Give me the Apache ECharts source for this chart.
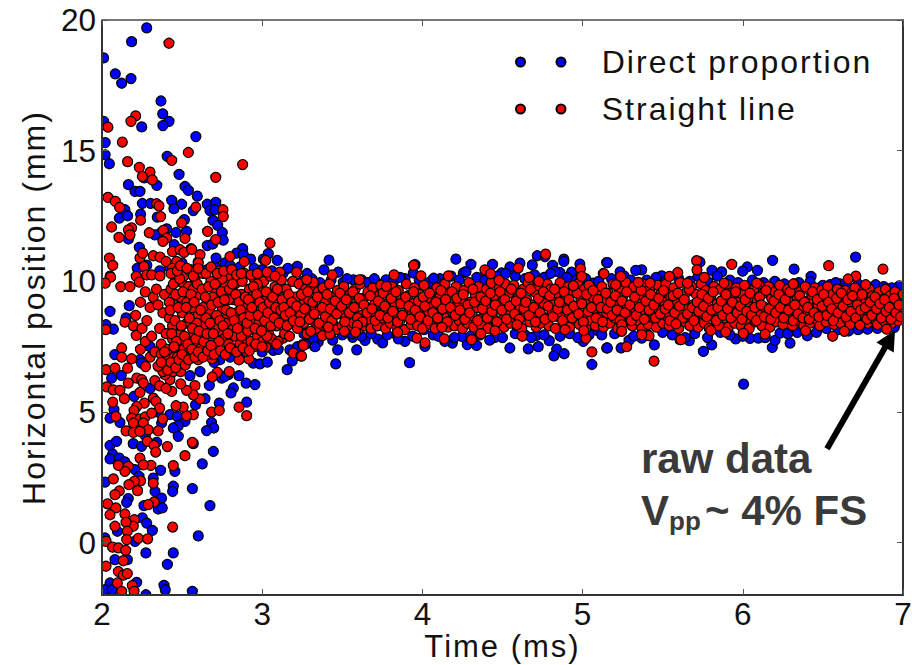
<!DOCTYPE html>
<html>
<head>
<meta charset="utf-8">
<script src="https://cdn.jsdelivr.net/npm/echarts@6/dist/echarts.min.js"></script>
<style>
html,body{margin:0;padding:0;background:#fff}
#chart{width:912px;height:665px}
#chart text{letter-spacing:2px}
#chart text[style*="bold"]{letter-spacing:0}
#chart text[style*="31.5px"]{letter-spacing:0}
</style>
</head>
<body>
<div id="chart"></div>
<script>
var xTicks = [2, 3, 4, 5, 6, 7];
var yTicks = [0, 5, 10, 15, 20];
var seriesNames = ['Direct proportion', 'Straight line'];

// 蓝点：左侧散布
var blueScatter = [[2.279,19.7],[2.185,19.17],[2.01,18.55],[2.083,17.94],[2.123,17.58],[2.181,17.76],[2.368,16.9],[2.379,16.41],[2.418,16.12],[2.38,15.96],[2.248,15.91],[2.01,16.12],[2.586,15.54],[2.02,15.31],[2.02,14.84],[2.046,14.5],[2.407,14.78],[2.481,14.09],[2.165,13.7],[2.206,13.44],[2.237,13.44],[2.264,13.96],[2.342,13.67],[2.518,13.63],[2.539,13.48],[2.595,13.26],[2.435,13.1],[2.497,12.95],[2.449,12.78],[2.252,12.98],[2.303,12.98],[2.657,12.95],[2.71,13.02],[2.674,12.71],[2.705,12.74],[2.57,12.71],[2.143,12.74],[2.108,12.42],[2.16,12.51],[2.241,12.57],[2.345,12.46],[2.514,12.36],[2.693,12.33],[2.722,12.14],[2.751,11.87],[2.757,11.58],[2.657,11.37],[2.691,11.43],[2.528,11.91],[2.462,11.87],[2.404,12.01],[2.366,11.85],[2.33,11.78],[2.165,11.62],[2.451,11.4],[2.233,11.3],[2.556,11.25],[2.878,11.25],[2.84,11.08],[2.882,11.02],[2.928,10.85],[3.038,11.06],[3.007,10.85],[3.094,10.8],[3.219,10.57],[2.712,10.89],[2.768,10.71],[2.716,10.51],[2.654,10.44],[2.22,10.5],[2.28,10.62],[2.36,10.4],[2.42,10.55],[2.5,10.7],[2.6,10.75],[2.05,10.2],[2.8,10.6],[2.86,10.55],[2.95,10.5],[3.0,10.45],[3.06,10.4],[3.13,10.3],[3.16,10.5],[3.28,10.3],
[2.05,8.85],[2.17,9.07],[2.025,8.34],[2.071,8.17],[2.06,6.3],[2.075,5.09],[2.112,4.6],[2.05,4.77],[2.195,3.79],[2.05,3.72],[2.091,3.88],[2.247,3.69],[2.341,3.84],[2.695,3.49],[2.626,3.02],[2.57,3.79],[2.066,3.39],[2.05,3.21],[2.108,3.24],[2.143,3.09],[2.455,2.73],[2.366,2.77],[2.206,2.8],[2.231,2.54],[2.019,2.32],[2.445,2.16],[2.441,1.96],[2.564,2.07],[2.32,2.47],[2.331,1.96],[2.372,1.71],[2.164,1.69],[2.154,1.54],[2.674,1.42],[2.262,1.42],[2.351,1.29],[2.376,1.33],[2.252,0.95],[2.279,0.75],[2.314,0.47],[2.096,0.44],[2.601,0.26],[2.019,0.18],[2.206,0.05],[2.274,-0.39],[2.445,-0.39],[2.408,-0.83],[2.081,-0.65],[2.158,-0.65],[2.216,-1.52],[2.05,-1.54],[2.019,-1.8],[2.064,-1.8],[2.387,-1.63],[2.395,-1.8],[2.564,-1.86],[2.274,-1.99],
[2.612,6.55],[2.67,6.02],[2.82,5.92],[2.805,5.73],[2.899,6.11],[2.955,6.05],[2.732,5.34],[2.903,5.38],[2.684,4.6],[2.698,4.39],[2.653,4.29],[2.643,5.51],[2.584,5.28],[2.944,6.87],[2.986,6.84],[3.032,6.91],[3.156,6.62],[3.188,6.96],[3.173,7.38],[3.069,7.36],[2.855,6.39],[2.788,6.43],[2.747,6.3],[2.767,6.36],[2.736,7.0],[2.549,6.39],[2.424,4.9],[2.47,4.83],[2.518,4.64],[2.476,4.48],[2.445,4.39],[2.372,4.58],[2.476,4.07],[2.237,7.0],[2.247,6.87],[2.3,5.9],[2.35,5.0],[2.27,4.1],[2.2,5.6],[2.12,6.4],[2.08,7.2],[2.15,8.6],[2.3,7.5],[2.4,7.0],[2.5,6.8],[2.6,7.1],[2.7,6.9],[2.8,7.1],[2.9,7.2],[3.0,7.3],[3.1,7.4],[3.22,7.5],[3.27,7.6],[3.33,7.5]];

// 蓝点：稳定段上下边缘
var blueBand = [[3.417,10.81],[4.209,10.85],[4.303,10.65],[4.255,10.32],[4.272,10.37],[4.438,10.65],[4.717,10.98],[4.686,10.63],[4.765,10.95],[4.609,10.7],[4.546,10.55],[4.813,10.61],[4.883,10.85],[4.883,10.76],[4.983,10.66],[5.15,10.72],[4.931,10.35],[4.858,10.34],[4.827,10.38],[3.386,10.44],[3.475,10.35],[3.954,10.64],[3.943,10.32],[4.494,10.32],[5.066,9.93],[3.891,10.1],[3.506,9.96],[3.569,10.06],[3.621,10.06],[3.725,9.9],[4.11,10.1],[4.141,9.97],[3.773,10.06],
[3.459,6.84],[3.92,6.89],[3.471,7.38],[3.59,7.38],[3.721,7.79],[3.752,7.65],[3.642,7.74],[3.565,7.86],[3.891,7.7],[4.016,7.51],[4.187,7.64],[4.28,7.58],[4.338,7.55],[4.546,7.45],[4.661,7.42],[4.723,7.5],[4.792,7.73],[4.838,7.41],[4.821,7.15],[4.885,7.23],[5.058,6.82],[5.15,7.45],[5.087,8.13],[3.298,7.64],[3.35,7.68],[4.453,7.86],[4.245,7.89],[4.068,7.95],[4.01,8.15],[4.713,7.93],[5.004,7.7],[3.839,7.96],
[5.155,10.72],[6.186,10.8],[6.704,10.93],[6.028,10.55],[5.999,10.39],[6.091,10.42],[6.32,10.47],[6.426,10.19],[5.369,10.44],[5.332,10.42],[5.234,10.36],[5.808,10.42],[5.868,10.36],[5.494,10.21],[5.733,10.74],[6.829,9.87],[6.544,9.87],[6.607,9.9],[6.977,9.83],
[5.155,7.45],[6.005,6.07],[5.754,7.32],[5.806,7.57],[5.24,7.45],[5.29,7.74],[5.448,7.57],[6.184,7.47],[6.295,7.64],[6.201,7.74],[5.956,7.8],[5.666,7.73],[5.608,7.77],[6.403,7.92],[6.232,8.02],[6.779,8.17],[6.946,8.24],[6.045,7.82],[6.097,7.83],[5.369,7.83],[6.596,8.15],[6.471,8.34],
[3.25,10.0],[3.31,10.1],[3.36,9.95],[3.43,10.05],[3.53,10.1],[3.66,9.95],[3.7,10.1],[3.82,10.0],[3.86,10.15],[3.98,10.05],[4.04,9.95],[4.07,10.12],[4.18,10.2],[4.23,10.05],[4.34,10.15],[4.39,10.05],[4.47,10.2],[4.52,10.3],[4.58,10.2],[4.64,10.1],[4.7,10.25],[4.76,10.15],[4.8,10.3],[4.9,10.15],[4.96,10.05],[5.02,10.1],[5.1,10.0],[5.18,10.1],[5.26,10.2],[5.3,10.05],[5.4,10.05],[5.46,10.15],[5.52,10.0],[5.6,10.1],[5.67,10.0],[5.72,10.2],[5.78,10.0],[5.84,10.2],[5.92,10.05],[5.97,9.95],[6.06,10.05],[6.13,9.95],[6.2,10.0],[6.26,9.9],[6.35,9.95],[6.42,9.98],[6.5,9.85],[6.58,9.95],[6.65,9.8],[6.72,9.9],[6.78,9.8],[6.88,9.8],[6.93,9.75],
[3.26,8.0],[3.32,7.8],[3.38,7.95],[3.44,7.75],[3.5,7.95],[3.56,8.0],[3.62,7.9],[3.68,8.0],[3.78,7.95],[3.85,7.8],[3.94,7.9],[4.1,7.9],[4.14,7.7],[4.2,7.85],[4.3,7.9],[4.36,7.95],[4.42,7.75],[4.5,7.85],[4.58,8.0],[4.64,7.95],[4.68,7.85],[4.76,7.95],[4.86,7.9],[4.92,8.0],[4.97,7.85],[5.04,7.95],[5.12,7.95],[5.2,8.0],[5.32,7.9],[5.4,8.0],[5.5,8.05],[5.56,7.95],[5.64,7.85],[5.7,8.0],[5.78,7.85],[5.86,8.05],[5.92,7.95],[6.0,7.9],[6.14,7.85],[6.28,8.0],[6.34,8.05],[6.46,8.05],[6.52,8.2],[6.66,8.1],[6.72,8.15],[6.84,8.2],[6.9,8.25]];

// 红点：左侧散布
var redScatter = [[2.418,19.11],[2.21,16.33],[2.181,16.12],[2.037,15.9],[2.127,15.33],[2.878,14.47],[2.539,14.93],[2.435,14.63],[2.16,14.58],[2.233,14.36],[2.3,14.18],[2.252,14.01],[2.314,13.88],[2.71,13.98],[2.037,13.21],[2.083,13.06],[2.11,12.83],[2.341,12.97],[2.356,12.89],[2.586,12.84],[2.755,12.74],[2.757,12.48],[2.366,12.48],[2.241,12.34],[2.497,12.24],[2.06,12.08],[2.185,12.05],[2.165,11.97],[2.175,11.78],[2.106,11.68],[2.295,11.86],[2.383,11.95],[2.404,11.66],[2.38,11.53],[2.518,11.64],[2.659,11.91],[2.71,11.6],[3.049,11.46],[2.44,11.14],[2.487,11.21],[2.512,11.11],[2.56,11.22],[2.612,11.02],[2.466,10.76],[2.237,10.89],[2.254,11.08],[2.32,10.98],[2.362,10.93],[2.4,10.76],[2.046,10.89],[2.067,10.61],[2.601,10.7],[2.56,10.44],[2.799,10.95],[2.888,10.76],[3.022,10.8],[3.111,10.35],[3.215,10.35],[2.262,10.57],[2.214,10.19],[2.279,10.25],[2.31,10.25],[2.362,10.21],[2.456,10.21],[2.233,9.97],[2.054,10.16],[2.02,9.93],[2.117,9.8],[2.175,9.8],[2.497,9.97],[2.52,10.3],[2.44,10.5],
[2.143,8.44],[2.196,8.3],[2.214,7.93],[2.023,8.15],[2.123,7.45],[2.123,7.1],[2.185,7.04],[2.025,6.62],[2.081,6.68],[2.16,6.68],[2.272,6.74],[2.164,6.11],[2.217,6.3],[2.248,6.24],[2.258,6.11],[2.03,5.96],[2.07,5.85],[2.112,5.83],[2.14,5.51],[2.067,5.38],[2.237,5.75],[2.32,5.53],[2.337,5.41],[2.264,5.34],[2.217,5.21],[2.36,5.15],[2.2,5.06],[2.087,4.83],[2.185,4.77],[2.237,4.73],[2.269,4.81],[2.31,4.96],[2.196,4.58],[2.258,4.58],[2.379,4.74],[2.289,4.32],[2.351,4.28],[2.15,4.28],[2.196,4.22],[2.237,4.26],[2.283,3.88],[2.325,3.72],[2.335,3.47],[2.408,3.68],[2.564,3.84],[2.518,3.33],[2.445,2.95],[2.305,2.96],[2.237,3.24],[2.258,2.98],[2.164,2.92],[2.143,2.73],[2.102,2.96],[2.071,2.44],[2.241,2.37],[2.202,2.35],[2.168,2.22],[2.32,2.28],[2.222,1.99],[2.108,1.98],[2.081,1.84],[2.035,1.49],[2.087,1.33],[2.05,1.07],[2.326,1.56],[2.289,1.46],[2.143,1.1],[2.202,0.88],[2.195,0.63],[2.15,0.78],[2.081,0.63],[2.158,0.44],[2.154,0.12],[2.227,0.17],[2.285,0.15],[2.441,0.6],[2.025,0.05],[2.066,-0.17],[2.102,-0.2],[2.148,-0.29],[2.133,-0.69],[2.025,-0.9],[2.102,-1.1],[2.133,-1.24],[2.158,-1.18],[2.096,-1.54],[2.123,-1.86],[2.189,-1.64],[2.2,-1.86],
[2.903,4.86],[2.855,5.19],[2.684,5.0],[2.732,5.06],[2.57,4.9],[2.528,4.86],[2.507,5.19],[2.462,5.24],[2.611,5.5],[2.58,6.01],[2.57,5.66],[2.528,5.83],[2.491,6.08],[2.435,5.79],[2.424,6.24],[2.393,6.43],[2.445,6.55],[2.491,6.55],[2.47,6.87],[2.414,7.0],[2.794,6.55],[2.72,6.52],[2.688,6.34],[2.688,7.04],[2.855,7.0],[2.917,7.03],[2.903,7.32],[3.023,7.49],[3.194,7.26],[3.24,7.15],[3.252,7.58],[3.131,7.83],
[2.33,6.2],[2.36,6.0],[2.4,5.9],[2.38,6.55],[2.35,6.75],[2.42,6.7],[2.3,7.1],[2.33,7.3],[2.37,7.2],[2.45,7.1],[2.52,7.0],[2.56,7.15],[2.6,7.0],[2.62,7.25],[2.66,7.2],[2.24,7.4],[2.27,7.7],[2.31,7.9],[2.25,8.2],[2.28,8.5],[2.21,8.7],[2.3,9.0],[2.24,9.2],[2.32,9.4],[2.27,9.6],[2.34,9.7],[2.36,8.2],[2.38,8.8],[2.35,9.1],[2.39,9.5],[2.37,7.6],[2.4,8.0]];

// 红点：过渡段 2.4-3.2
var redWedge = [[2.41,7.4],[2.42,8.6],[2.43,9.7],[2.44,7.8],[2.45,9.1],[2.46,10.0],[2.47,8.2],[2.48,7.5],[2.49,9.4],[2.5,8.8],[2.51,10.2],[2.52,7.7],[2.53,8.4],[2.54,9.8],[2.55,7.3],[2.56,9.0],[2.57,8.0],[2.58,10.1],[2.59,7.6],[2.6,8.7],[2.61,9.5],[2.62,7.9],[2.63,10.3],[2.64,8.3],[2.65,7.5],[2.66,9.2],[2.67,8.9],[2.68,10.0],[2.69,7.7],[2.7,8.5],[2.71,9.6],[2.72,7.4],[2.73,10.4],[2.74,8.1],[2.75,9.0],[2.76,7.8],[2.77,9.8],[2.78,8.6],[2.79,7.6],[2.8,10.2],[2.81,8.3],[2.82,9.3],[2.83,7.9],[2.84,8.8],[2.85,10.0],[2.86,7.6],[2.87,9.5],[2.88,8.2],[2.89,10.3],[2.9,7.8],[2.91,8.9],[2.92,9.7],[2.93,7.7],[2.94,8.5],[2.95,10.1],[2.96,9.1],[2.97,7.9],[2.98,8.4],[2.99,9.6],[3.0,7.7],[3.01,10.0],[3.02,8.7],[3.03,9.3],[3.04,8.0],[3.05,10.2],[3.06,7.8],[3.07,8.9],[3.08,9.8],[3.09,8.3],[3.1,7.7],[3.11,9.4],[3.12,10.05],[3.13,8.6],[3.14,8.0],[3.15,9.7],[3.16,9.1],[3.17,7.9],[3.18,8.4],[3.19,10.0],[3.2,8.8],
[2.42,9.2],[2.44,8.3],[2.46,9.5],[2.47,7.1],[2.49,8.0],[2.51,7.4],[2.53,9.2],[2.55,10.4],[2.57,9.7],[2.59,8.4],[2.61,7.4],[2.63,9.0],[2.65,8.6],[2.67,7.4],[2.69,9.4],[2.71,8.2],[2.73,7.7],[2.75,10.1],[2.77,8.4],[2.79,9.3],[2.81,7.4],[2.83,9.9],[2.85,8.5],[2.87,7.9],[2.89,9.1],[2.91,8.1],[2.93,9.4],[2.95,7.5],[2.97,9.9],[2.99,8.9],[3.01,8.2],[3.03,7.9],[3.05,8.6],[3.07,9.5],[3.09,7.6],[3.11,8.5],
[2.425,8.9],[2.435,8.0],[2.445,9.9],[2.455,8.5],[2.465,7.7],[2.475,9.0],[2.485,10.1],[2.495,8.3],[2.505,9.6],[2.515,7.9],[2.525,9.0],[2.535,7.6],[2.545,8.6],[2.555,9.5],[2.565,8.2],[2.575,9.2],[2.585,7.8],[2.595,9.9],[2.605,8.1],[2.615,8.9],[2.625,9.7],[2.635,7.7],[2.645,9.4],[2.655,8.0],[2.665,9.8],[2.675,8.4],[2.685,9.1],[2.695,8.0],[2.705,9.9],[2.715,8.7],[2.725,9.2],[2.735,8.5],[2.745,9.6],[2.755,8.3],[2.765,9.3],[2.775,8.9],[2.785,8.0],[2.795,9.7],[2.805,8.8],[2.815,9.9],[2.825,8.5],[2.835,9.5],[2.845,8.2],[2.855,9.2],[2.865,8.9],[2.875,10.0],[2.885,8.6],[2.895,9.4],[2.905,8.4],[2.915,9.3],[2.925,8.7],[2.935,9.0],[2.945,9.8],[2.955,8.2],[2.965,9.5],[2.975,8.7],[2.985,9.2],[2.995,8.1],
[2.37,6.9],[2.39,7.3],[2.41,6.6],[2.43,6.9],[2.45,7.5],[2.46,6.7],[2.48,7.0],[2.5,7.2],[2.52,6.8],[2.54,7.0],[2.56,7.4],[2.58,7.1],[2.6,7.3],[2.63,7.1],[2.66,7.35],[2.68,7.55],[2.7,7.2],[2.74,7.35],[2.77,7.2],[2.8,7.45],[2.84,7.3],[2.88,7.45],[2.92,7.35],[2.96,7.6],[3.0,7.5],[2.43,10.3],[2.47,10.4],[2.49,10.6],[2.53,10.5],[2.57,10.2],[2.6,10.5],[2.65,10.3],[2.68,10.55],[2.72,10.3],[2.76,10.4],[2.81,10.45],[2.84,10.25],[2.87,10.3],[2.93,10.25],[2.97,10.3],[3.03,10.35],[3.08,10.2]];

// 红点：稳定段核心，每段约 0.5 ms
var redCoreA = [[3.21,9.4],[3.22,8.2],[3.23,9.9],[3.24,8.7],[3.25,9.1],[3.26,8.4],[3.27,9.7],[3.28,8.0],[3.29,9.3],[3.3,8.8],[3.31,9.85],[3.32,8.5],[3.33,9.0],[3.34,8.2],[3.35,9.6],[3.36,8.9],[3.37,8.35],[3.38,9.75],[3.39,9.2],[3.4,8.1],[3.41,8.7],[3.42,9.9],[3.43,9.4],[3.44,8.4],[3.45,9.0],[3.46,8.15],[3.47,9.65],[3.48,8.8],[3.49,9.3],[3.5,8.3],[3.51,9.8],[3.52,8.6],[3.53,9.1],[3.54,8.2],[3.55,9.5],[3.56,8.9],[3.57,8.4],[3.58,9.7],[3.59,9.2],[3.6,8.15],[3.61,9.9],[3.62,8.7],[3.63,9.35],[3.64,8.3],[3.65,9.0],[3.66,9.6],[3.67,8.5],[3.68,8.2],[3.69,9.75],[3.7,9.1],[3.71,8.75],[3.72,8.3],[3.73,9.45],[3.74,9.85],[3.75,8.6],[3.76,8.95],[3.77,8.2],[3.78,9.55],[3.79,9.2],[3.8,8.4],[3.81,9.8],[3.82,8.75],[3.83,9.05],[3.84,8.25],[3.85,9.65],[3.86,8.5],[3.87,9.3],[3.88,8.9],[3.89,8.15],[3.9,9.9],[3.91,9.45],[3.92,8.65],[3.93,8.35],[3.94,9.15],[3.95,9.75],[3.96,8.8],[3.97,8.3],[3.98,9.5],[3.99,9.0],[4.0,8.2],[4.01,9.85],[4.02,8.55],[4.03,9.3],[4.04,8.85],[4.05,8.35],[4.06,9.6],[4.07,9.1],[4.08,8.2],[4.09,9.75],[4.1,8.7],[4.11,9.4],[4.12,8.4],[4.13,9.0],[4.14,9.9],[4.15,8.6],[4.16,8.25],[4.17,9.55],[4.18,9.2],[4.19,8.8],[4.2,8.3],[4.21,9.8],[4.22,9.05],[4.23,8.5],[4.24,9.35],[4.25,8.2],[4.26,9.65],[4.27,8.9],[4.28,8.4],[4.29,9.95],[4.3,9.2],[4.31,8.7],[4.32,8.25],[4.33,9.5],[4.34,9.0],[4.35,9.8],[4.36,8.55],[4.37,8.3],[4.38,9.35],[4.39,8.85],[4.4,9.7],[4.41,8.2],[4.42,9.1],[4.43,9.95],[4.44,8.6],[4.45,9.45],[4.46,8.35],[4.47,8.95],[4.48,9.75],[4.49,8.5],[4.5,9.25],[4.51,8.25],[4.52,9.9],[4.53,8.75],[4.54,9.55],[4.55,8.4],[4.56,9.05],[4.57,9.85],[4.58,8.6],[4.59,8.3],[4.6,9.4],[4.61,9.0],[4.62,8.2],[4.63,9.7],[4.64,8.8],[4.65,9.3],[4.66,9.95],[4.67,8.45],[4.68,9.1],[4.69,8.7],[4.7,9.6],[4.71,8.25],[4.72,9.85],[4.73,8.95],[4.74,8.4],[4.75,9.45],[4.76,9.15],[4.77,8.6],[4.78,9.9],[4.79,8.3],[4.8,9.7],[4.81,8.85],[4.82,9.25],[4.83,8.2],[4.84,9.55],[4.85,8.65],[4.86,9.95],[4.87,9.0],[4.88,8.4],[4.89,9.35],[4.9,8.75],[4.91,9.8],[4.92,8.25],[4.93,9.1],[4.94,9.6],[4.95,8.55],[4.96,8.9],[4.97,9.9],[4.98,8.35],[4.99,9.3]];

var redCoreB = [[5.0,8.7],[5.01,9.7],[5.02,8.2],[5.03,9.15],[5.04,9.85],[5.05,8.5],[5.06,9.4],[5.07,8.9],[5.08,8.3],[5.09,9.6],[5.1,9.05],[5.11,8.65],[5.12,9.8],[5.13,8.25],[5.14,9.3],[5.15,8.8],[5.16,9.55],[5.17,8.4],[5.18,9.0],[5.19,9.9],[5.2,8.6],[5.21,9.2],[5.22,8.2],[5.23,9.7],[5.24,8.85],[5.25,9.4],[5.26,8.45],[5.27,9.95],[5.28,9.05],[5.29,8.7],[5.3,9.6],[5.31,8.3],[5.32,9.8],[5.33,8.95],[5.34,9.25],[5.35,8.5],[5.36,9.5],[5.37,8.2],[5.38,9.9],[5.39,8.75],[5.4,9.1],[5.41,8.35],[5.42,9.7],[5.43,9.35],[5.44,8.6],[5.45,9.0],[5.46,8.25],[5.47,9.85],[5.48,8.85],[5.49,9.55],[5.5,8.4],[5.51,9.2],[5.52,9.9],[5.53,8.65],[5.54,8.3],[5.55,9.4],[5.56,9.0],[5.57,9.75],[5.58,8.5],[5.59,9.15],[5.6,8.2],[5.61,9.95],[5.62,8.8],[5.63,9.3],[5.64,8.45],[5.65,9.6],[5.66,8.95],[5.67,8.3],[5.68,9.8],[5.69,9.1],[5.7,8.6],[5.71,9.5],[5.72,8.25],[5.73,9.25],[5.74,9.9],[5.75,8.75],[5.76,8.4],[5.77,9.65],[5.78,9.0],[5.79,8.2],[5.8,9.45],[5.81,8.85],[5.82,9.8],[5.83,8.5],[5.84,9.15],[5.85,8.3],[5.86,9.7],[5.87,8.95],[5.88,9.3],[5.89,8.6],[5.9,9.9],[5.91,8.25],[5.92,9.05],[5.93,9.55],[5.94,8.7],[5.95,8.4],[5.96,9.75],[5.97,9.2],[5.98,8.85],[5.99,8.3],[6.0,9.5],[6.01,9.85],[6.02,8.55],[6.03,9.1],[6.04,8.2],[6.05,9.4],[6.06,8.9],[6.07,9.7],[6.08,8.45],[6.09,9.25],[6.1,9.9],[6.11,8.7],[6.12,8.3],[6.13,9.55],[6.14,9.0],[6.15,8.6],[6.16,9.8],[6.17,8.25],[6.18,9.35],[6.19,8.85],[6.2,9.6],[6.21,8.45],[6.22,9.1],[6.23,9.85],[6.24,8.75],[6.25,8.35],[6.26,9.45],[6.27,9.0],[6.28,9.7],[6.29,8.55],[6.3,9.2],[6.31,8.3],[6.32,9.9],[6.33,8.85],[6.34,9.35],[6.35,8.5],[6.36,9.6],[6.37,9.05],[6.38,8.3],[6.39,9.8],[6.4,8.7],[6.41,9.25],[6.42,8.4],[6.43,9.5],[6.44,8.95],[6.45,9.75],[6.46,8.55],[6.47,9.1],[6.48,8.3],[6.49,9.65],[6.5,8.8],[6.51,9.35],[6.52,8.45],[6.53,9.8],[6.54,9.0],[6.55,8.65],[6.56,9.5],[6.57,8.35],[6.58,9.2],[6.59,9.7],[6.6,8.75],[6.61,8.4],[6.62,9.4],[6.63,9.0],[6.64,9.65],[6.65,8.55],[6.66,9.15],[6.67,8.35],[6.68,9.55],[6.69,8.85],[6.7,9.75],[6.71,8.6],[6.72,9.3],[6.73,8.45],[6.74,9.0],[6.75,9.6],[6.76,8.7],[6.77,9.2],[6.78,8.4],[6.79,9.7],[6.8,8.9],[6.81,9.45],[6.82,8.55],[6.83,9.1],[6.84,8.35],[6.85,9.6],[6.86,8.8],[6.87,9.3],[6.88,8.5],[6.89,9.7],[6.9,9.0],[6.91,8.65],[6.92,9.45],[6.93,8.4],[6.94,9.15],[6.95,9.6],[6.96,8.75],[6.97,8.5],[6.98,9.35],[6.99,8.95],[7.0,9.5]];

// 红点：核心补点，颜色最深的中部
var redCoreC = [[3.005,9.0],[3.015,8.5],[3.025,9.6],[3.035,8.8],[3.045,9.2],[3.055,8.3],[3.065,9.4],[3.075,8.6],[3.085,9.0],[3.095,9.7],[3.105,8.4],[3.115,8.9],[3.125,9.3],[3.135,9.0],[3.145,8.7],[3.155,8.3],[3.165,9.5],[3.175,8.8],[3.185,9.2],[3.195,8.5],[3.215,9.05],[3.235,8.45],[3.245,9.5],[3.265,8.95],[3.285,9.6],[3.295,8.55],[3.315,9.2],[3.325,8.75],[3.345,9.4],[3.355,8.4],[3.375,9.0],[3.395,8.65],[3.405,9.5],[3.425,8.95],[3.435,8.5],[3.455,9.25],[3.465,8.75],[3.485,9.55],[3.495,9.05],[3.515,8.45],[3.525,9.3],[3.545,8.8],[3.565,9.6],[3.575,9.0],[3.595,8.6],[3.605,9.35],[3.625,8.45],[3.635,9.1],[3.655,8.8],[3.675,9.45],[3.685,8.95],[3.705,8.5],[3.725,9.25],[3.735,8.7],[3.755,9.55],[3.765,9.05],[3.785,8.6],[3.805,9.35],[3.815,8.85],[3.835,9.6],[3.845,8.45],[3.865,9.15],[3.875,8.7],[3.895,9.4],[3.915,9.05],[3.925,8.55],[3.945,9.6],[3.955,8.9],[3.975,9.25],[3.985,8.65],[4.005,9.4],[4.015,9.05],[4.035,8.5],[4.045,9.55],[4.065,8.8],[4.085,9.2],[4.095,8.6],[4.115,9.65],[4.125,8.95],[4.145,9.3],[4.155,8.45],[4.175,9.0],[4.185,9.6],[4.205,8.7],[4.215,9.35],[4.235,8.9],[4.255,9.5],[4.265,8.55],[4.285,9.1],[4.295,8.8],[4.315,9.7],[4.325,9.2],[4.345,8.5],[4.365,9.4],[4.375,8.95],[4.395,9.25],[4.405,8.6],[4.425,9.55],[4.435,8.85],[4.455,9.1],[4.465,8.45],[4.485,9.6],[4.495,8.9],[4.515,9.3],[4.525,8.55],[4.545,9.05],[4.555,9.7],[4.575,8.75],[4.585,9.25],[4.605,8.55],[4.615,9.55],[4.635,8.95],[4.645,9.2],[4.665,8.7],[4.675,9.7],[4.695,9.0],[4.705,8.45],[4.725,9.35],[4.735,8.8],[4.755,9.6],[4.765,8.55],[4.785,9.05],[4.795,9.45],[4.815,8.65],[4.825,9.7],[4.845,8.95],[4.855,9.2],[4.875,8.5],[4.885,9.6],[4.905,8.9],[4.915,9.3],[4.935,8.6],[4.945,9.05],[4.965,9.55],[4.975,8.75],[4.995,9.15],[5.005,8.45],[5.025,9.5],[5.035,8.85],[5.055,9.0],[5.065,9.65],[5.085,8.6],[5.095,9.3],[5.115,9.0],[5.125,8.45],[5.145,9.55],[5.155,8.95],[5.175,9.2],[5.185,8.7],[5.205,9.45],[5.215,8.9],[5.235,8.5],[5.245,9.25],[5.265,8.8],[5.275,9.6],[5.295,9.1],[5.305,8.5],[5.325,9.4],[5.335,8.7],[5.355,9.0],[5.365,9.65],[5.385,8.55],[5.395,9.25],[5.415,8.9],[5.425,9.5],[5.445,9.1],[5.455,8.6],[5.475,9.35],[5.485,8.75],[5.505,9.65],[5.515,8.95],[5.535,9.1],[5.545,8.5],[5.565,9.45],[5.575,8.8],[5.595,9.55],[5.605,9.05],[5.625,8.6],[5.635,9.3],[5.655,8.75],[5.665,9.7],[5.685,9.0],[5.695,8.5],[5.715,9.2],[5.725,8.85],[5.745,9.5],[5.755,9.05],[5.775,8.65],[5.785,9.35],[5.805,8.9],[5.815,9.6],[5.835,8.5],[5.845,9.0],[5.865,9.25],[5.875,8.7],[5.895,9.5],[5.905,8.95],[5.925,8.6],[5.935,9.2],[5.955,9.6],[5.965,8.8],[5.985,9.05],[5.995,8.55],[6.015,9.3],[6.025,8.85],[6.045,9.55],[6.055,8.7],[6.075,9.0],[6.085,8.5],[6.105,9.4],[6.115,9.1],[6.135,8.65],[6.145,9.65],[6.165,8.95],[6.175,8.55],[6.195,9.25],[6.205,8.8],[6.225,9.5],[6.235,9.0],[6.255,8.6],[6.265,9.3],[6.285,8.9],[6.295,9.6],[6.315,8.5],[6.325,9.1],[6.345,8.75],[6.355,9.45],[6.375,8.6],[6.385,9.2],[6.405,9.0],[6.415,8.55],[6.435,9.6],[6.445,8.8],[6.465,9.3],[6.475,8.65],[6.495,9.05],[6.505,9.5],[6.525,8.7],[6.535,9.2],[6.555,8.95],[6.565,8.5],[6.585,9.35],[6.595,8.8],[6.615,9.55],[6.625,9.05],[6.645,8.65],[6.655,9.3],[6.675,8.85],[6.685,9.45],[6.705,8.6],[6.715,9.1],[6.735,8.9],[6.745,9.5],[6.765,9.0],[6.775,8.55],[6.795,9.2],[6.805,8.7],[6.825,9.4],[6.835,8.95],[6.855,9.15],[6.865,8.6],[6.885,9.3],[6.895,8.85],[6.915,9.0],[6.925,8.55],[6.945,9.35],[6.955,8.8],[6.975,9.1],[6.985,8.65]];

// 红点：稳定段边缘离群点
var redBandEdge = [[4.769,11.04],[3.945,10.61],[3.823,10.25],[3.438,10.25],[3.991,10.21],[4.162,10.21],[4.39,10.44],[4.426,10.29],[4.598,10.51],[4.987,10.48],[4.994,10.19],[5.129,10.3],[3.606,10.06],[4.478,10.04],[4.665,10.15],[4.727,10.0],[4.942,9.83],[3.775,9.81],[3.319,9.96],[3.278,10.06],[3.246,7.14],[3.257,7.55],[3.303,8.09],[3.375,7.92],[3.423,7.98],[3.413,8.25],[3.513,8.09],[3.594,8.32],[3.583,8.06],[3.845,8.05],[3.966,7.83],[4.016,7.65],[4.122,8.24],[4.137,7.8],[4.307,7.77],[4.59,8.34],[4.623,7.9],[4.89,8.15],[5.021,7.82],[5.058,7.3],[5.008,8.12],[4.365,8.0],[4.453,8.11],
[5.931,10.65],[5.712,10.79],[5.714,10.44],[6.536,10.6],[6.875,10.47],[6.706,10.2],[6.657,10.09],[5.594,10.34],[5.542,10.19],[5.134,10.29],[5.238,10.19],[5.76,10.15],[5.446,6.95],[5.275,7.5],[6.561,7.9],[6.634,8.09],[5.614,7.77],[5.415,7.92],[5.369,7.96],[5.893,8.06],[6.139,7.98],[6.003,8.01],[6.392,8.11],[6.898,8.17],[6.731,8.32],[5.244,8.34],[5.244,8.09],[5.8,8.12],[5.583,8.37],[6.767,9.87],[6.315,9.9],[6.087,9.93],[5.883,9.93],[5.654,9.93],[5.421,9.93],[5.348,9.96],[5.207,9.87]];

var arrowStart = [6.526, 3.6];
var arrowEnd = [6.919, 7.8];

var axisFont = 'Liberation Sans, Arial, sans-serif';
var legendIcon = 'path://M0,5a5,5 0 1,0 10,0a5,5 0 1,0 -10,0Z M45,5a5,5 0 1,0 10,0a5,5 0 1,0 -10,0Z';

function baseAxis() {
    return {
        axisLine : { show : true, onZero : false, lineStyle : { color : '#333', width : 2 } },
        axisTick : { show : true, inside : true, length : 6, lineStyle : { color : '#555', width : 1 } },
        splitLine : { show : false },
        z : 6
    };
}

var myChart = echarts.init(document.getElementById('chart'), null, { renderer : 'svg' });

var xBottom = baseAxis();
xBottom.type = 'value';
xBottom.min = 2;
xBottom.max = 7;
xBottom.position = 'bottom';
xBottom.name = 'Time (ms)';
xBottom.nameLocation = 'middle';
xBottom.nameGap = 36;
xBottom.nameMoveOverlap = false;
xBottom.nameTextStyle = { fontFamily : axisFont, fontSize : 31, color : '#111' };
xBottom.axisTick.customValues = xTicks;
xBottom.axisLabel = { customValues : xTicks, fontFamily : axisFont, fontSize : 31.5, color : '#111', margin : 3 };

var xTop = baseAxis();
xTop.type = 'value';
xTop.min = 2;
xTop.max = 7;
xTop.position = 'top';
xTop.axisLine.lineStyle.color = '#777';
xTop.axisTick.customValues = xTicks;
xTop.axisLabel = { show : false };

var yLeft = baseAxis();
yLeft.type = 'value';
yLeft.min = -2;
yLeft.max = 20;
yLeft.position = 'left';
yLeft.name = 'Horizontal position (mm)';
yLeft.nameLocation = 'middle';
yLeft.nameGap = 49;
yLeft.nameTextStyle = { fontFamily : axisFont, fontSize : 32, color : '#111' };
yLeft.axisTick.customValues = yTicks;
yLeft.axisLabel = { customValues : yTicks, fontFamily : axisFont, fontSize : 31.5, color : '#111', margin : 6 };

var yRight = baseAxis();
yRight.type = 'value';
yRight.min = -2;
yRight.max = 20;
yRight.position = 'right';
yRight.axisTick.customValues = yTicks;
yRight.axisLabel = { show : false };

var pointStyle = function(color) {
    return { color : color, borderColor : '#000', borderWidth : 1.2, opacity : 1 };
};

var option = {
    animation : false,
    backgroundColor : '#fff',
    grid : { left : 102, right : 9, top : 20, bottom : 70, outerBoundsMode : 'none' },
    legend : {
        left : 510,
        top : 41,
        orient : 'vertical',
        itemWidth : 56,
        itemHeight : 9,
        itemGap : 15,
        icon : legendIcon,
        selectedMode : false,
        textStyle : { fontFamily : axisFont, fontSize : 32, color : '#111', padding : [0, 0, 0, 28] },
        data : seriesNames
    },
    xAxis : [xBottom, xTop],
    yAxis : [yLeft, yRight],
    series : [
        {
            name : seriesNames[0],
            type : 'scatter',
            symbolSize : 10,
            itemStyle : pointStyle('#0000ff'),
            data : blueBand.concat(blueScatter)
        },
        {
            name : seriesNames[1],
            type : 'scatter',
            symbolSize : 10,
            itemStyle : pointStyle('#ff0000'),
            data : redScatter.concat(redWedge, redCoreA, redCoreB, redCoreC, redBandEdge),
            markLine : {
                silent : true,
                symbol : ['none', 'triangle'],
                symbolSize : 20,
                label : { show : false },
                lineStyle : { color : '#000', width : 6, type : 'solid' },
                data : [[{ coord : arrowStart }, { coord : arrowEnd }]]
            }
        }
    ],
    // 点不裁剪时用白条盖住坐标轴外侧
    graphic : [
        { type : 'rect', z : 5, shape : { x : 90, y : 15, width : 12, height : 586 }, style : { fill : '#fff' } },
        { type : 'rect', z : 5, shape : { x : 90, y : 595, width : 822, height : 6 }, style : { fill : '#fff' } },
        { type : 'rect', z : 5, shape : { x : 903, y : 15, width : 9, height : 586 }, style : { fill : '#fff' } },
        { type : 'text', z : 7, left : 641, top : 437, style : { text : 'raw data', fontFamily : axisFont, fontWeight : 'bold', fontSize : 42, fill : '#3a3a3a' } },
        { type : 'text', z : 7, left : 641, top : 489, style : { text : 'V', fontFamily : axisFont, fontWeight : 'bold', fontSize : 42, fill : '#3a3a3a' } },
        { type : 'text', z : 7, left : 669, top : 508, style : { text : 'pp', fontFamily : axisFont, fontWeight : 'bold', fontSize : 26, fill : '#3a3a3a' } },
        { type : 'text', z : 7, left : 705, top : 489, style : { text : '~ 4% FS', fontFamily : axisFont, fontWeight : 'bold', fontSize : 42, fill : '#3a3a3a' } }
    ]
};

myChart.setOption(option);
</script>
</body>
</html>
